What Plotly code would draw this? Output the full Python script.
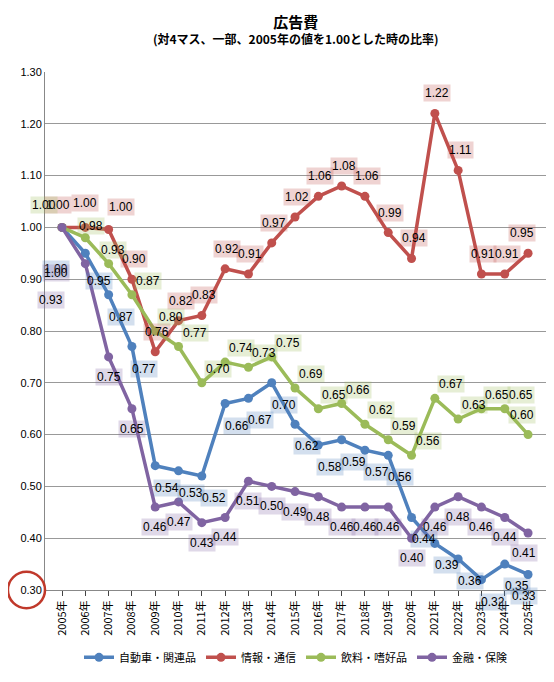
import plotly.graph_objects as go

years = [f"{y}年" for y in range(2005, 2026)]
auto = [1.00, 0.95, 0.87, 0.77, 0.54, 0.53, 0.52, 0.66, 0.67, 0.70, 0.62, 0.58, 0.59, 0.57, 0.56, 0.44, 0.39, 0.36, 0.32, 0.35, 0.33]
info = [1.00, 1.00, 0.996, 0.90, 0.76, 0.82, 0.83, 0.92, 0.91, 0.97, 1.02, 1.06, 1.08, 1.06, 0.99, 0.94, 1.22, 1.11, 0.91, 0.91, 0.95]
drink = [1.00, 0.98, 0.93, 0.87, 0.80, 0.77, 0.70, 0.74, 0.73, 0.75, 0.69, 0.65, 0.66, 0.62, 0.59, 0.56, 0.67, 0.63, 0.65, 0.65, 0.60]
fin = [1.00, 0.93, 0.75, 0.65, 0.46, 0.47, 0.43, 0.44, 0.51, 0.50, 0.49, 0.48, 0.46, 0.46, 0.46, 0.40, 0.46, 0.48, 0.46, 0.44, 0.41]

series = [
    ("自動車・関連品", auto, "#4f81bd", "rgba(79,129,189,0.25)", 12, -22),
    ("情報・通信", info, "#c0504d", "rgba(192,80,77,0.25)", 2, 20),
    ("飲料・嗜好品", drink, "#9bbb59", "rgba(155,187,89,0.25)", 16, 14),
    ("金融・保険", fin, "#8064a2", "rgba(128,100,162,0.25)", 0, -20),
]
# label shifts for crowded points (index -> (dx, dy))
label_shift = {
    "自動車・関連品": {0: (-6, -42), 1: (14, -28), 20: (-4, -22)},
    "情報・通信": {0: (-4, 22), 1: (0, 24), 2: (12, 22), 20: (-6, 20)},
    "飲料・嗜好品": {0: (-18, 22), 1: (6, 12), 2: (4, 14), 20: (-6, 20)},
    "金融・保険": {0: (-6, -46), 1: (-34, -36), 20: (-4, -20)},
}

fig = go.Figure()
annots = []
for name, vals, col, bg, dx, dy in series:
    fig.add_trace(go.Scatter(
        x=years, y=vals, name=name, mode="lines+markers",
        line=dict(color=col, width=3.5),
        marker=dict(size=9, color=col),
    ))
    for i, (x, v) in enumerate(zip(years, vals)):
        sx, sy = label_shift[name].get(i, (dx, dy))
        annots.append(dict(
            x=x, y=v, text=f"{v:.2f}", showarrow=False,
            xshift=sx, yshift=sy, bgcolor=bg,
            font=dict(size=12, color="black", family="Liberation Sans"),
        ))

annots.append(dict(
    x=0.5, y=1.045, xref="paper", yref="paper", showarrow=False, yanchor="bottom",
    text="<b><span style='font-size:15px'>広告費</span></b><br><b>(対4マス、一部、2005年の値を1.00とした時の比率)</b>",
    font=dict(size=12, family="Noto Sans CJK JP"),
))

fig.update_layout(
    width=546, height=674,
    paper_bgcolor="white", plot_bgcolor="white",
    margin=dict(l=37, r=8, t=64, b=92),
    font=dict(family="Noto Sans CJK JP", size=11, color="black"),
    annotations=annots,
    showlegend=True,
    legend=dict(orientation="h", x=0.5, xanchor="center", y=-0.13, yanchor="middle",
                font=dict(size=11)),
    xaxis=dict(tickangle=-90, showgrid=False, showline=True, linecolor="#888",
               range=[-0.73, 20.77], ticks="outside", tickfont=dict(size=11), automargin=False),
    yaxis=dict(range=[0.3, 1.3], dtick=0.1, tickformat=".2f", showgrid=True,
               gridcolor="#999", showline=True, linecolor="#888", automargin=False,
               tickfont=dict(size=11, family="Liberation Sans")),
    shapes=[
        dict(type="circle", xref="paper", yref="paper", x0=-0.074, x1=0.0, y0=-0.035, y1=0.035,
             line=dict(color="#c0392b", width=2.5)),
    ],
)

fig.write_html("out.html")
